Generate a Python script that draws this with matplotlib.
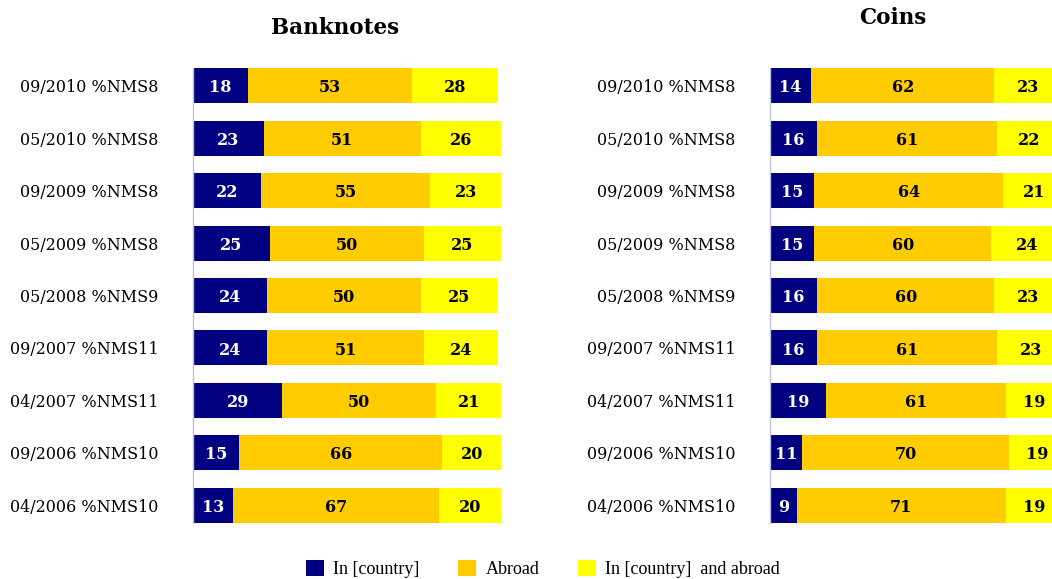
import matplotlib
matplotlib.use("Agg")
import matplotlib.pyplot as plt
from matplotlib.patches import Patch

categories = ["09/2010 %NMS8", "05/2010 %NMS8", "09/2009 %NMS8", "05/2009 %NMS8",
              "05/2008 %NMS9", "09/2007 %NMS11", "04/2007 %NMS11", "09/2006 %NMS10",
              "04/2006 %NMS10"]
series_names = ["In [country]", "Abroad", "In [country]  and abroad"]
colors = ["#000080", "#FFCC00", "#FFFF00"]
text_colors = ["white", "black", "black"]

bank_in = [18, 23, 22, 25, 24, 24, 29, 15, 13]
bank_abroad = [53, 51, 55, 50, 50, 51, 50, 66, 67]
bank_both = [28, 26, 23, 25, 25, 24, 21, 20, 20]

coin_in = [14, 16, 15, 15, 16, 16, 19, 11, 9]
coin_abroad = [62, 61, 64, 60, 60, 61, 61, 70, 71]
coin_both = [23, 22, 21, 24, 23, 23, 19, 19, 19]

W, H = 1052, 579
fig = plt.figure(figsize=(W / 100, H / 100), dpi=100)

serif = ["DejaVu Serif"]


def panel(rect, title, title_x, title_y, series):
    ax = fig.add_axes(rect)
    ys = list(range(len(categories)))
    left = [0] * len(categories)
    for vals, col, tc in zip(series, colors, text_colors):
        bars = ax.barh(ys, vals, left=left, height=0.67, color=col, edgecolor="none")
        anns = ax.bar_label(bars, labels=[str(v) for v in vals], label_type="center",
                            color=tc, fontsize=11.5, fontweight="bold", family=serif)
        for a in anns:
            a.xyann = (0, -1.5)
        left = [l + v for l, v in zip(left, vals)]
    ax.set_xlim(0, 100)
    ax.set_ylim(len(categories) - 1 + 0.34, -0.34)
    ax.set_yticks(ys)
    ax.set_yticklabels(categories, family=serif, fontsize=11.5)
    ax.tick_params(axis="y", length=0, pad=25)
    ax.set_xticks([])
    for s in ["top", "right", "bottom"]:
        ax.spines[s].set_visible(False)
    ax.spines["left"].set_color("#C0C0E0")
    ax.spines["left"].set_linewidth(1.0)
    fig.text(title_x / W, 1 - title_y / H, title, ha="center", va="center",
             fontsize=15.5, fontweight="bold", family=serif)
    return ax


ax1 = panel([193 / W, 56 / H, 308 / W, 455 / H], "Banknotes", 335, 28,
            [bank_in, bank_abroad, bank_both])
ax2 = panel([770 / W, 56 / H, 295 / W, 455 / H], "Coins", 893, 18,
            [coin_in, coin_abroad, coin_both])

handles = [Patch(facecolor=c, edgecolor="none") for c in colors]
fig.legend(handles, series_names, loc="center", bbox_to_anchor=(543 / W, 1 - 569 / H),
           ncol=3, frameon=False, prop={"family": "Liberation Serif", "size": 13},
           handlelength=1.0, handleheight=1.0, handletextpad=0.5, columnspacing=2.15,
           borderpad=0)

fig.savefig("out.png", dpi=100)
